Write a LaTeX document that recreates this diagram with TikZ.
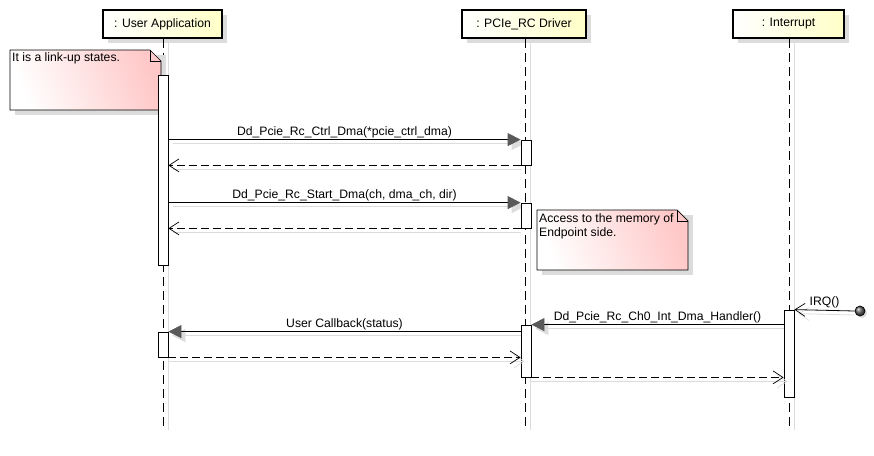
\documentclass[tikz,border=0pt]{standalone}
\usepackage{fontspec}
\setmainfont{Liberation Sans}
\usetikzlibrary{arrows.meta,shadows,calc}
\definecolor{lifey}{HTML}{FFFFC8}
\definecolor{notep}{HTML}{FFC8C8}
\definecolor{shad}{HTML}{DCDCDC}
\begin{document}
\begin{tikzpicture}[x=1pt,y=-1pt,font=\fontsize{12.2}{14}\selectfont,
  lbox/.style={draw,line width=1.8pt,left color=white,right color=lifey,
    minimum height=28pt,inner sep=0pt,
    general shadow={shadow xshift=5pt,shadow yshift=-5pt,fill=shad}},
  lline/.style={draw,line width=0.8pt,dash pattern=on 9pt off 5pt},
  lshadow/.style={draw=shad,line width=0.8pt},
  actbox/.style={draw,fill=white,line width=0.8pt,minimum width=10pt,inner sep=0pt},
  msg/.style={draw,line width=0.8pt,-{Triangle[length=13pt,width=13pt,fill=black!65,color=black!65]}},
  msgsh/.style={draw=shad,line width=0.8pt,-{Triangle[length=13pt,width=13pt,fill=shad,color=shad]}},
  ret/.style={draw,line width=0.8pt,dash pattern=on 8pt off 4pt,-{Straight Barb[length=10pt,width=13pt,line width=0.7pt]}},
  open/.style={draw,line width=0.8pt,-{Straight Barb[length=10pt,width=13pt,line width=0.7pt]}},
  retsh/.style={draw=shad,line width=0.8pt,-{Straight Barb[length=10pt,width=13pt,line width=0.7pt]}},
  lab/.style={midway,above,inner sep=1.5pt},
  notetext/.style={anchor=north west,inner sep=0pt,align=left}
]
\useasboundingbox (0,0) rectangle (874,455);

% lifeline shadows
\draw[lshadow] (168,38) -- (168,430);
\draw[lshadow] (530,38) -- (530,430);
\draw[lshadow] (794,38) -- (794,430);

% lifeline heads
\node[lbox,minimum width=119pt] (ua) at (162.5,24) {: User Application};
\node[lbox,minimum width=124pt] (pd) at (524,24) {: PCIe\_RC Driver};
\node[lbox,minimum width=111pt] (it) at (788.5,24) {: Interrupt};

\coordinate (uaend) at (163,430);
\coordinate (pdend) at (525,430);
\coordinate (itend) at (789,430);
\draw[lline] (ua.south -| uaend) -- (uaend);
\draw[lline] (pd.south -| pdend) -- (pdend);
\draw[lline] (it.south -| itend) -- (itend);

% note 1
\fill[shad] (15,55) rectangle (166,115);
\shade[left color=white,right color=notep,shading angle=110]
  (10,50) -- (150,50) -- (161,61) -- (161,110) -- (10,110) -- cycle;
\draw[line width=0.7pt] (10,50) -- (150,50) -- (161,61) -- (161,110) -- (10,110) -- cycle;
\draw[line width=0.7pt] (150,50) -- (150,61) -- (161,61);
\node[notetext] (n1) at (12,52) {It is a link-up states.};

% activations
\node[actbox,minimum height=190pt] (ua1) at (163,170) {};
\node[actbox,minimum height=25pt] (pa1) at (526,152.5) {};
\node[actbox,minimum height=25pt] (pa2) at (526,215.5) {};
\node[actbox,minimum height=52pt] (pa3) at (526,351) {};
\node[actbox,minimum height=87pt] (ia) at (789,353.5) {};
\node[actbox,minimum height=25pt] (ua2) at (163,344.5) {};

% note 2
\fill[shad] (542,215) rectangle (693,275);
\shade[left color=white,right color=notep,shading angle=110]
  (537,210) -- (677,210) -- (688,221) -- (688,270) -- (537,270) -- cycle;
\draw[line width=0.7pt] (537,210) -- (677,210) -- (688,221) -- (688,270) -- (537,270) -- cycle;
\draw[line width=0.7pt] (677,210) -- (677,221) -- (688,221);
\node[notetext] (n2) at (539,213) {Access to the memory of\\Endpoint side.};

% message 1
\draw[msgsh] ($(pa1.north west -| ua1.east)+(5,4)$) -- ($(pa1.north west)+(4,4)$);
\draw[msg] (pa1.north west -| ua1.east) -- node[lab,black] {Dd\_Pcie\_Rc\_Ctrl\_Dma(*pcie\_ctrl\_dma)} (pa1.north west);
\node[actbox,minimum height=25pt] at (pa1) {};
% return 1
\draw[lshadow] ($(pa1.south west)+(0,4)$) -- ($(pa1.south west -| ua1.east)+(5,4)$);
\draw[ret] (pa1.south west) -- (pa1.south west -| ua1.east);

% message 2
\draw[msgsh] ($(pa2.north west -| ua1.east)+(5,4)$) -- ($(pa2.north west)+(4,4)$);
\draw[msg] (pa2.north west -| ua1.east) -- node[lab,black] {Dd\_Pcie\_Rc\_Start\_Dma(ch, dma\_ch, dir)} (pa2.north west);
\node[actbox,minimum height=25pt] at (pa2) {};
% return 2
\draw[lshadow] ($(pa2.south west)+(0,4)$) -- ($(pa2.south west -| ua1.east)+(5,4)$);
\draw[ret] (pa2.south west) -- (pa2.south west -| ua1.east);

% found message IRQ
\node[circle,inner sep=0pt,minimum size=10pt,fill=shad] at (862,313) {};
\node[circle,inner sep=0pt,minimum size=10pt,draw,line width=0.7pt,ball color=black!60] (src) at (860,311) {};
\draw[retsh] ($(src.west)+(0,4)$) -- ($(ia.north east)+(4,4)$);
\draw[open] (src.west) -- node[lab] {IRQ()} (ia.north east);

% handler
\draw[msgsh] ($(ia.west |- pa3.north)+(0,4)$) -- ($(pa3.north east)+(4,4)$);
\draw[msg] (ia.west |- pa3.north) -- node[lab,black] {Dd\_Pcie\_Rc\_Ch0\_Int\_Dma\_Handler()} (pa3.north east);

% user callback
\draw[msgsh] ($(pa3.west |- ua2.north)+(0,4)$) -- ($(ua2.north east)+(4,4)$);
\draw[msg] (pa3.west |- ua2.north) -- node[lab,black] {User Callback(status)} (ua2.north east);

% return 3
\draw[retsh] ($(ua2.south east)+(0,4)$) -- ($(ua2.south east -| pa3.west)+(4,4)$);
\draw[ret] (ua2.south east) -- (ua2.south east -| pa3.west);

% return 4
\draw[retsh] ($(pa3.south east)+(0,4)$) -- ($(pa3.south east -| ia.west)+(4,4)$);
\draw[ret] (pa3.south east) -- (pa3.south east -| ia.west);

\end{tikzpicture}
\end{document}
